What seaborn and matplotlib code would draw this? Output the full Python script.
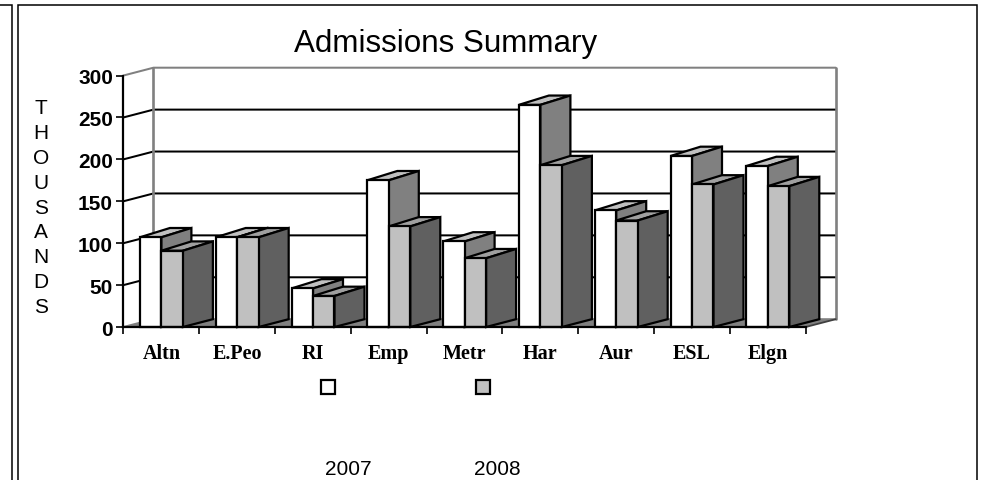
import matplotlib
matplotlib.use("Agg")
import matplotlib.pyplot as plt
from matplotlib.patches import Polygon, Rectangle
from matplotlib.lines import Line2D
import pandas as pd
import seaborn as sns

categories = ["Altn", "E.Peo", "RI", "Emp", "Metr", "Har", "Aur", "ESL", "Elgn"]
values_2007 = [107, 107, 46, 175, 102, 265, 139, 204, 192]
values_2008 = [91, 107, 37, 120, 82, 193, 127, 170, 168]
years = ["2007", "2008"]
y_ticks = [0, 50, 100, 150, 200, 250, 300]

W, H = 983, 481
sns.set_theme(style="white")
plt.rcParams["font.family"] = ["Liberation Sans", "DejaVu Sans"]

df = pd.DataFrame({
    "cat": categories * 2,
    "value": values_2007 + values_2008,
    "year": [years[0]] * len(categories) + [years[1]] * len(categories),
})

fig = plt.figure(figsize=(W / 100, H / 100), dpi=100, facecolor="white")
L, R, B, T = 123.5, 805.7, 328.0, 76.5
ax = fig.add_axes([L / W, 1 - B / H, (R - L) / W, (B - T) / H])

COL_FRONT = ["#ffffff", "#c0c0c0"]
COL_TOP = ["#c0c0c0", "#a0a0a0"]
COL_SIDE = ["#808080", "#606060"]
EDGE = 1.6

sns.barplot(data=df, x="cat", y="value", hue="year", hue_order=years,
            palette=dict(zip(years, COL_FRONT)), width=0.567, gap=0,
            edgecolor="black", linewidth=EDGE, legend=False, saturation=1,
            errorbar=None, ax=ax)
ax.set_xlim(-0.5, 8.5)
ax.set_ylim(0, 300)
for p in ax.patches:
    p.set_zorder(6)
    p.set_alpha(None)
    p.set_clip_on(False)

# depth in data units
ppx = 75.8
ppy = (B - T) / 300
dx = 30 / ppx
dy = 7.8 / ppy
dy_top = 9.3 / ppy
bw = 0.567 / 2

# wall, floor, grid
lc = "#808080"
floor = Polygon([(-0.5, 0), (8.5, 0), (8.5 + dx, dy), (-0.5 + dx, dy)], closed=True,
                facecolor="#808080", edgecolor="none", zorder=1, clip_on=False)
ax.add_patch(floor)
for t in y_ticks:
    col = lc if t in (0, 300) else "black"
    ax.plot([-0.5, -0.5 + dx, 8.5 + dx], [t, t + dy, t + dy], color=col, lw=1.45,
            clip_on=False, zorder=2, solid_joinstyle="miter")
ax.plot([-0.5 + dx] * 2, [dy, 300 + dy], color=lc, lw=1.9, clip_on=False, zorder=3)
ax.plot([8.5 + dx] * 2, [dy, 300 + dy], color=lc, lw=1.9, clip_on=False, zorder=3)
ax.plot([8.5, 8.5 + dx], [0, dy], color="#404040", lw=1.3, clip_on=False, zorder=3)

# 3D sides of the bars
for i in range(len(categories)):
    for j, vals in enumerate((values_2007, values_2008)):
        v = vals[i]
        x0 = i - bw + j * bw
        x1 = x0 + bw
        z = 4 + j
        ax.add_patch(Polygon([(x0, v), (x1, v), (x1 + dx, v + dy_top), (x0 + dx, v + dy_top)], closed=True,
                             facecolor=COL_TOP[j], edgecolor="black", lw=EDGE, zorder=z,
                             clip_on=False, joinstyle="miter"))
        ax.add_patch(Polygon([(x1, 0), (x1, v), (x1 + dx, v + dy_top), (x1 + dx, dy)], closed=True,
                             facecolor=COL_SIDE[j], edgecolor="black", lw=EDGE, zorder=z,
                             clip_on=False, joinstyle="miter"))

# axes
for s in ("top", "right"):
    ax.spines[s].set_visible(False)
for s in ("left", "bottom"):
    ax.spines[s].set_visible(True)
    ax.spines[s].set_color("black")
    ax.spines[s].set_linewidth(EDGE)
    ax.spines[s].set_zorder(7)
ax.patch.set_alpha(0)
ax.set_xlabel("")
ax.set_ylabel("")
ax.set_yticks(y_ticks)
ax.set_xticks([i - 0.5 for i in range(len(categories) + 1)], minor=False)
ax.set_xticklabels([])
ax.tick_params(axis="x", which="major", length=4.7, width=1.2, color="black", bottom=True, pad=0)
ax.tick_params(axis="y", length=5, width=1.2, color="black", left=True, pad=2.5)
for lab in ax.get_yticklabels():
    lab.set_fontsize(15)
    lab.set_fontweight("bold")
    lab.set_color("black")
for i, c in enumerate(categories):
    ax.annotate(c, (i, 0), xytext=(0, 328 - 354), textcoords="offset pixels",
                annotation_clip=False, ha="center", va="center", family="Liberation Serif",
                fontweight="bold", fontsize=14.5, color="black")


def px(x, y):
    return x / W, 1 - y / H


fig.text(*px(446, 44), "Admissions Summary", ha="center", va="center", fontsize=22.6, color="black")
fig.text(*px(41, 208), "\n".join("THOUSANDS"), ha="center", va="center", fontsize=15,
         linespacing=1.39, color="black")

# legend
for xc, col, label, xt in zip((328, 482.7), COL_FRONT, years, (348, 497.7)):
    fig.add_artist(Rectangle(px(xc - 7, 395), 14 / W, 14 / H, transform=fig.transFigure,
                             facecolor=col, edgecolor="black", lw=1.6))
    fig.text(*px(xt, 470), label, ha="center", va="center", fontsize=15, color="black")

# frames
def fline(xs, ys):
    fig.add_artist(Line2D([x / W for x in xs], [1 - y / H for y in ys], color="black", lw=1.1,
                          transform=fig.transFigure, solid_joinstyle="miter"))

fline([0, 11.5, 11.5], [5.5, 5.5, 481])
fline([17.5, 17.5, 977, 977], [481, 5.5, 5.5, 481])

fig.savefig("out.png", dpi=100)
